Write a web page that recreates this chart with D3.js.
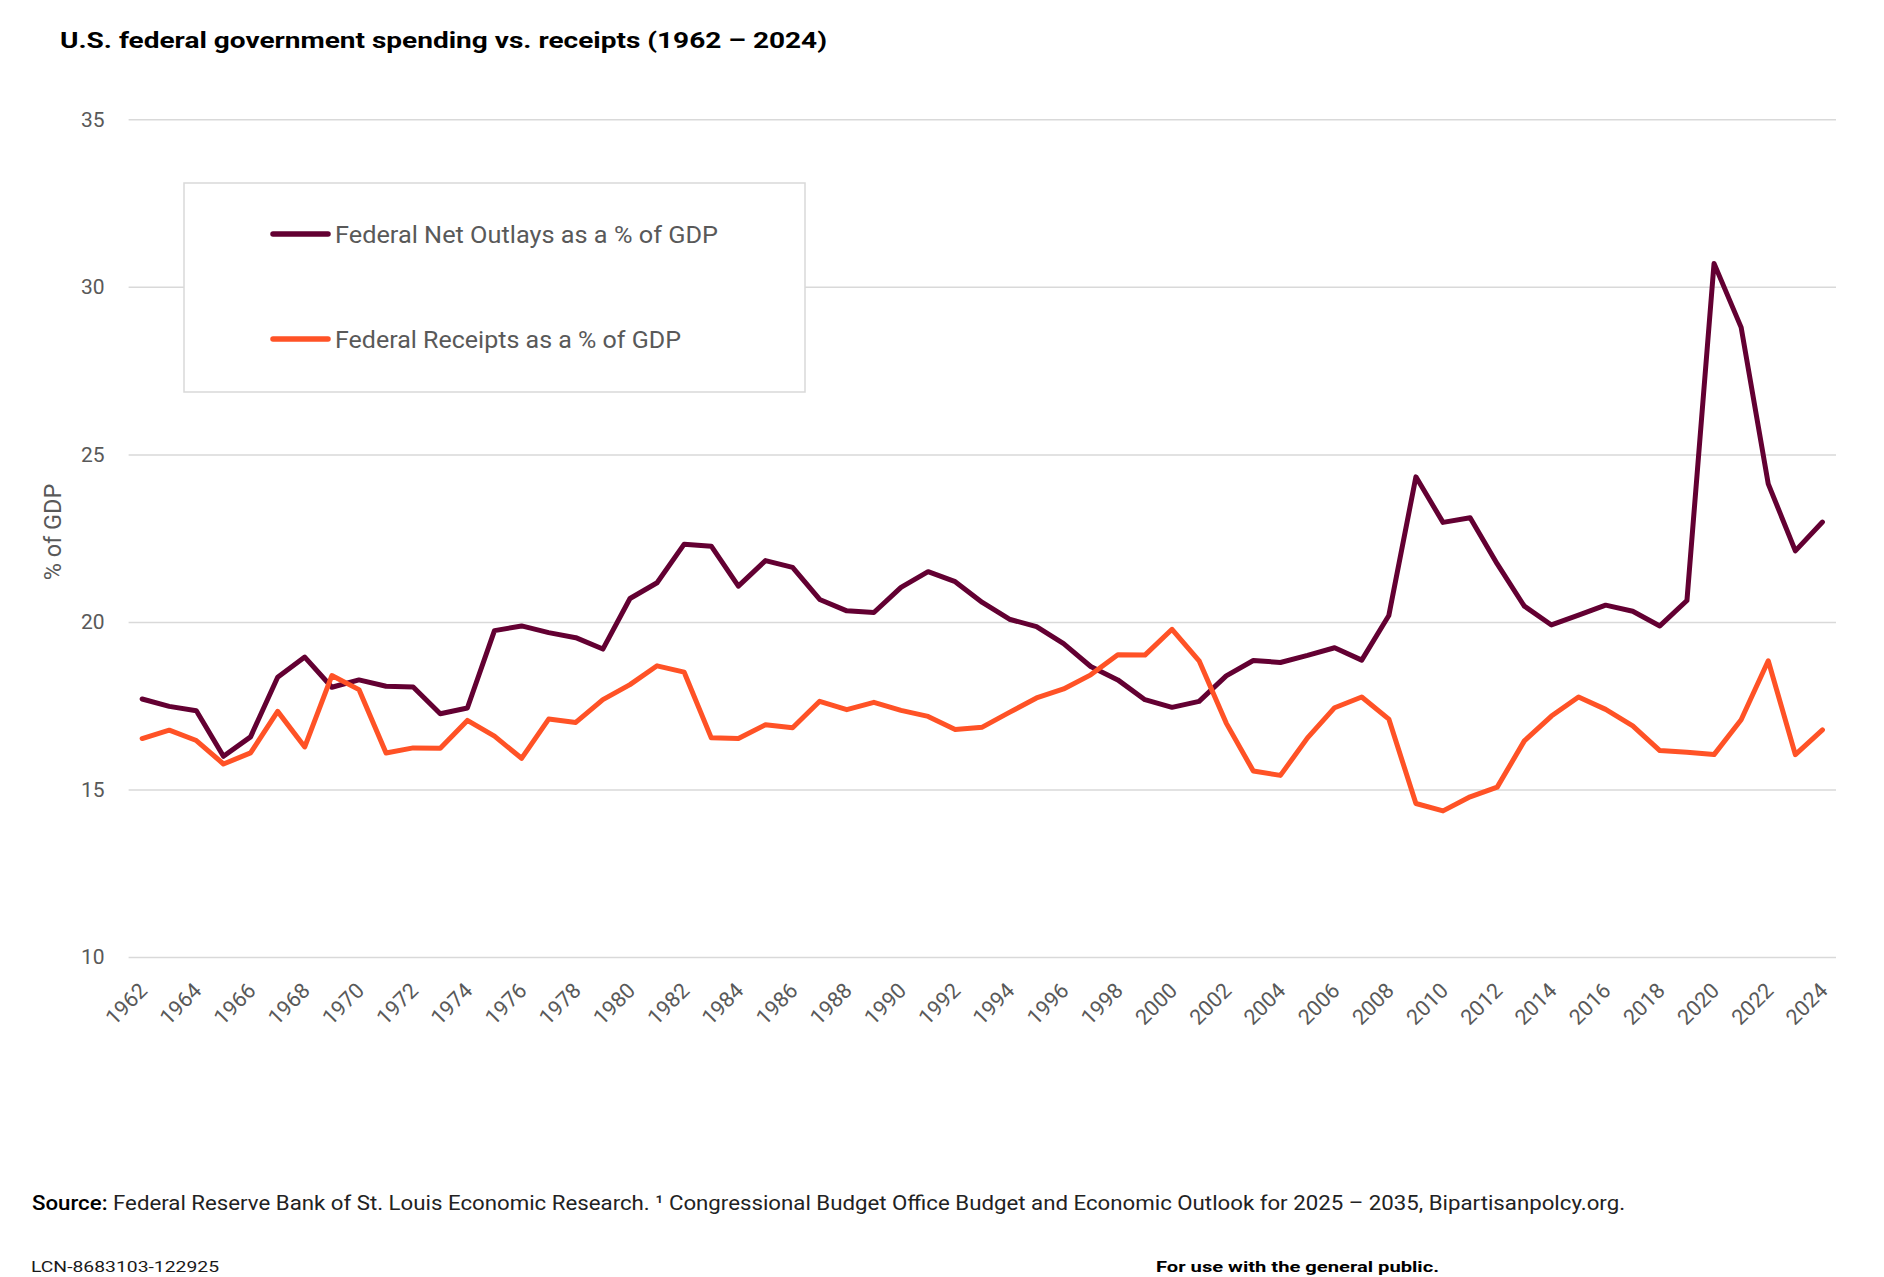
<!DOCTYPE html>
<html>
<head>
<meta charset="utf-8">
<script src="https://cdn.jsdelivr.net/npm/d3@7"></script>
<style>
  html, body { margin: 0; padding: 0; background: #fff; }
  #chart { width: 1884px; height: 1277px; }
  text { font-family: Roboto, "Liberation Sans", sans-serif; }
</style>
</head>
<body>
<div id="chart"></div>
<script>
// gasto vs ingresos federales, % del PIB
const years = d3.range(1962, 2025);
const outlays = [
  17.70, 17.48, 17.35, 15.99, 16.57, 18.35, 18.95, 18.05, 18.27, 18.08,
  18.06, 17.26, 17.43, 19.74, 19.88, 19.68, 19.53, 19.19, 20.70, 21.17,
  22.32, 22.26, 21.07, 21.83, 21.63, 20.67, 20.33, 20.28, 21.03, 21.50,
  21.20, 20.58, 20.08, 19.86, 19.35, 18.67, 18.27, 17.68, 17.45, 17.63,
  18.39, 18.85, 18.79, 19.00, 19.23, 18.86, 20.19, 24.33, 22.97, 23.11,
  21.73, 20.47, 19.91, 20.20, 20.50, 20.32, 19.88, 20.64, 30.70, 28.79,
  24.12, 22.12, 22.98
];
const receipts = [
  16.52, 16.77, 16.46, 15.76, 16.09, 17.33, 16.27, 18.40, 17.98, 16.09,
  16.24, 16.23, 17.06, 16.59, 15.93, 17.10, 17.00, 17.68, 18.13, 18.69,
  18.50, 16.54, 16.52, 16.93, 16.84, 17.63, 17.38, 17.60, 17.36, 17.18,
  16.79, 16.86, 17.30, 17.73, 18.00, 18.42, 19.02, 19.01, 19.78, 18.84,
  16.98, 15.55, 15.42, 16.54, 17.44, 17.76, 17.10, 14.58, 14.36, 14.78,
  15.07, 16.45, 17.19, 17.76, 17.39, 16.90, 16.16, 16.11, 16.04, 17.08,
  18.84, 16.04, 16.78
];
const yTicks = [10, 15, 20, 25, 30, 35];
const xTickYears = years.filter(y => y % 2 === 0);
const seriesNames = ['Federal Net Outlays as a % of GDP', 'Federal Receipts as a % of GDP'];
const seriesColors = ['#630032', '#ff5226'];

const W = 1884, H = 1277;
const plot = { left: 128.6, right: 1836, top: 119.3, bottom: 957 };
const grey = '#595959';

const svg = d3.select('#chart').append('svg')
  .attr('width', W).attr('height', H)
  .attr('viewBox', `0 0 ${W} ${H}`);

const x = d3.scalePoint().domain(years).range([plot.left, plot.right]).padding(0.5);
const y = d3.scaleLinear().domain([10, 35]).range([plot.bottom, plot.top]);

// titulo
svg.append('text')
  .attr('x', 60).attr('y', 48)
  .attr('font-size', 22).attr('font-weight', 700).attr('fill', '#000')
  .attr('textLength', 767).attr('lengthAdjust', 'spacingAndGlyphs')
  .text('U.S. federal government spending vs. receipts (1962 \u2013 2024)');

// eje y + grid
const yAxis = svg.append('g')
  .attr('transform', `translate(${plot.left},0)`)
  .call(d3.axisLeft(y).tickValues(yTicks).tickSize(-(plot.right - plot.left)).tickPadding(24));
yAxis.select('.domain').remove();
yAxis.selectAll('.tick line').attr('stroke', '#d9d9d9').attr('stroke-width', 1.5);
yAxis.selectAll('.tick text')
  .attr('fill', grey).attr('font-size', 21)
  .style('font-family', 'Roboto, "Liberation Sans", sans-serif');

// eje x
const xAxis = svg.append('g')
  .attr('transform', `translate(0,${plot.bottom})`)
  .call(d3.axisBottom(x).tickValues(xTickYears).tickSize(0));
xAxis.select('.domain').remove();
xAxis.selectAll('.tick text')
  .attr('x', 0).attr('y', 0).attr('dy', 0)
  .attr('transform', 'translate(6,35) rotate(-45)')
  .attr('text-anchor', 'end')
  .attr('fill', grey).attr('font-size', 21.5)
  .style('font-family', 'Roboto, "Liberation Sans", sans-serif');

// titulo eje y
svg.append('text')
  .attr('transform', 'translate(61,532) rotate(-90)')
  .attr('text-anchor', 'middle')
  .attr('font-size', 23.5).attr('fill', grey)
  .text('% of GDP');

// leyenda
const leg = svg.append('g');
leg.append('rect')
  .attr('x', 184).attr('y', 183).attr('width', 621).attr('height', 209)
  .attr('fill', '#fff').attr('stroke', '#d9d9d9').attr('stroke-width', 1.5);
const legRows = [234, 339];
seriesNames.forEach((name, i) => {
  leg.append('line')
    .attr('x1', 273).attr('x2', 328)
    .attr('y1', legRows[i]).attr('y2', legRows[i])
    .attr('stroke', seriesColors[i]).attr('stroke-width', 5.5).attr('stroke-linecap', 'round');
  leg.append('text')
    .attr('x', 335).attr('y', legRows[i] + 8.5)
    .attr('font-size', 24).attr('fill', grey)
    .attr('textLength', i === 0 ? 383 : 346).attr('lengthAdjust', 'spacingAndGlyphs')
    .text(name);
});

// lineas
const line = d3.line().x((d, i) => x(years[i])).y(d => y(d));
[outlays, receipts].forEach((vals, i) => {
  svg.append('path')
    .datum(vals)
    .attr('d', line)
    .attr('fill', 'none')
    .attr('stroke', seriesColors[i])
    .attr('stroke-width', 5)
    .attr('stroke-linejoin', 'round')
    .attr('stroke-linecap', 'round');
});

// pie de pagina
const src = svg.append('text')
  .attr('x', 32).attr('y', 1210)
  .attr('font-size', 20).attr('fill', '#222')
  .attr('textLength', 1593).attr('lengthAdjust', 'spacingAndGlyphs');
src.append('tspan').attr('font-weight', 500).attr('fill', '#000').text('Source:');
src.append('tspan').text(' Federal Reserve Bank of St. Louis Economic Research. \u00b9 Congressional Budget Office Budget and Economic Outlook for 2025 \u2013 2035, Bipartisanpolcy.org.');

svg.append('text')
  .attr('x', 31).attr('y', 1272)
  .attr('font-size', 15).attr('fill', '#1a1a1a')
  .attr('textLength', 188).attr('lengthAdjust', 'spacingAndGlyphs')
  .text('LCN-8683103-122925');

svg.append('text')
  .attr('x', 1156).attr('y', 1272)
  .attr('font-size', 15).attr('font-weight', 700).attr('fill', '#000')
  .attr('textLength', 283).attr('lengthAdjust', 'spacingAndGlyphs')
  .text('For use with the general public.');
</script>
</body>
</html>
